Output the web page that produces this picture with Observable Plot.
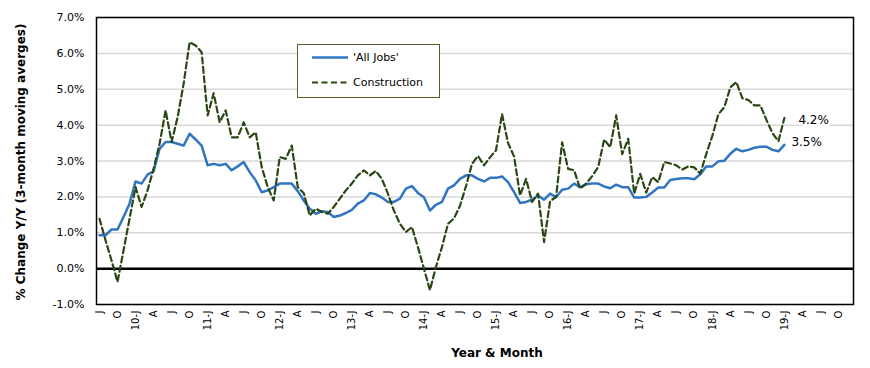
<!DOCTYPE html>
<html><head><meta charset="utf-8">
<script src="https://cdn.jsdelivr.net/npm/d3@7"></script>
<script src="https://cdn.jsdelivr.net/npm/@observablehq/plot@0.6"></script>
<style>body{margin:0;background:#fff;}</style>
</head><body><div id="chart"></div>
<script>
// Monthly series, Jul 2009 .. Jan 2019 (index 0 = Jul 2009)
const allJobs = [
  0.93,0.93,1.09,1.09,1.44,1.81,2.43,2.37,2.62,2.71,3.34,3.53,
  3.53,3.48,3.43,3.76,3.60,3.43,2.88,2.92,2.88,2.92,2.74,2.85,
  2.97,2.69,2.46,2.13,2.18,2.27,2.37,2.37,2.37,2.16,1.90,1.67,
  1.53,1.60,1.58,1.44,1.48,1.55,1.64,1.81,1.90,2.11,2.07,1.98,
  1.86,1.86,1.95,2.23,2.30,2.11,1.99,1.62,1.78,1.86,2.23,2.32,
  2.50,2.60,2.60,2.50,2.43,2.53,2.53,2.57,2.41,2.13,1.83,1.86,
  1.92,2.04,1.92,2.09,1.99,2.20,2.23,2.37,2.27,2.35,2.37,2.37,
  2.29,2.24,2.34,2.27,2.27,1.98,1.98,2.00,2.12,2.26,2.26,2.47,
  2.50,2.52,2.52,2.49,2.63,2.85,2.85,2.99,3.01,3.20,3.34,3.27,
  3.31,3.37,3.40,3.40,3.31,3.27,3.45
];
const construction = [
  1.39,0.79,0.23,-0.37,0.51,1.39,2.27,1.72,2.18,2.78,3.48,4.41,
  3.53,4.22,5.15,6.31,6.22,6.03,4.27,4.89,4.08,4.41,3.66,3.66,
  4.08,3.66,3.80,2.83,2.27,1.90,3.11,3.06,3.43,2.27,2.10,1.48,
  1.67,1.58,1.53,1.72,1.95,2.18,2.37,2.60,2.74,2.60,2.72,2.50,
  2.09,1.62,1.25,1.02,1.16,0.60,0.00,-0.60,0.05,0.60,1.25,1.40,
  1.75,2.30,2.92,3.14,2.88,3.10,3.30,4.31,3.50,3.13,2.04,2.50,
  1.86,2.09,0.74,1.88,2.00,3.52,2.78,2.74,2.23,2.37,2.58,2.83,
  3.60,3.38,4.27,3.19,3.62,2.09,2.64,2.12,2.55,2.41,2.97,2.93,
  2.88,2.76,2.85,2.82,2.65,3.20,3.70,4.30,4.50,5.05,5.20,4.75,
  4.70,4.55,4.55,4.15,3.78,3.55,4.20
];
const seriesNames = ["'All Jobs'", "Construction"];
const endLabels = ["3.5%", "4.2%"];
// Category tick labels every 3 months, Jul 2009 .. Oct 2019
const tickLabels = [
  "J","O",
  "10-J","A","J","O","11-J","A","J","O","12-J","A","J","O",
  "13-J","A","J","O","14-J","A","J","O","15-J","A","J","O",
  "16-J","A","J","O","17-J","A","J","O","18-J","A","J","O",
  "19-J","A","J","O"
];
const categoryCount = 126; // Jul 2009 .. Dec 2019
const yTicks = [-1,0,1,2,3,4,5,6,7];
const yTitle = "% Change Y/Y (3-month moving averges)";
const xTitle = "Year & Month";

const blue = "#2f75c2";
const green = "#2b4713";

const rows = allJobs.map((v, i) => ({i, allJobs: v, construction: construction[i]}));
const last = rows.length - 1;
const endRows = [
  {i: last, v: allJobs[last], label: endLabels[0]},
  {i: last, v: construction[last], label: endLabels[1]}
];
const tickPositions = tickLabels.map((_, k) => k * 3);

const chart = Plot.plot({
  width: 870, height: 368,
  marginLeft: 96, marginRight: 17, marginTop: 17, marginBottom: 64,
  style: {fontFamily: "DejaVu Sans", fontSize: "11px", color: "#000", background: "#fff"},
  x: {domain: [-0.5, categoryCount - 0.5], label: null},
  y: {domain: [-1, 7], label: null},
  marks: [
    Plot.gridY(yTicks, {stroke: "#d9d9d9", strokeOpacity: 1, strokeWidth: 1.5}),
    Plot.ruleY([0], {stroke: "black", strokeWidth: 2.5}),
    Plot.frame({stroke: "black", strokeWidth: 1.5}),
    Plot.axisY(yTicks, {tickSize: 0, tickPadding: 12, tickFormat: d => d.toFixed(1) + "%", fontSize: 11}),
    Plot.axisX(tickPositions, {tickSize: 0, tickPadding: 6, tickRotate: -90, tickFormat: d => tickLabels[d / 3], fontSize: 10}),
    Plot.lineY(rows, {x: "i", y: "allJobs", stroke: blue, strokeWidth: 2.5}),
    Plot.lineY(rows, {x: "i", y: "construction", stroke: green, strokeWidth: 2.2, strokeDasharray: "6,3.5"}),
    Plot.text(endRows.slice(1), {x: "i", y: "v", text: "label", textAnchor: "start", dx: 14, dy: 2, fontSize: 12, stroke: "white", strokeWidth: 5, fill: "black"}),
    Plot.text(endRows.slice(0, 1), {x: "i", y: "v", text: "label", textAnchor: "start", dx: 7, dy: -2.5, fontSize: 12, stroke: "white", strokeWidth: 5, fill: "black"})
  ]
});

const svg = d3.select(chart);
svg.append("text")
  .attr("transform", "translate(21,162) rotate(-90)")
  .attr("text-anchor", "middle").attr("dominant-baseline", "middle")
  .attr("font-family", "DejaVu Sans").attr("font-weight", "bold").attr("font-size", 12)
  .text(yTitle);
svg.append("text")
  .attr("x", 497).attr("y", 357)
  .attr("text-anchor", "middle")
  .attr("font-family", "DejaVu Sans").attr("font-weight", "bold").attr("font-size", 12)
  .text(xTitle);

// legend
const lg = svg.append("g");
lg.append("rect").attr("x", 297.5).attr("y", 44.5).attr("width", 142).attr("height", 53)
  .attr("fill", "white").attr("stroke", "#4f6228").attr("stroke-width", 1);
const legendItems = [
  {name: seriesNames[0], color: blue, dash: null, w: 2.5, y: 57.5},
  {name: seriesNames[1], color: green, dash: "6,3.5", w: 2.2, y: 82.5}
];
for (const it of legendItems) {
  lg.append("line").attr("x1", 312).attr("x2", 348).attr("y1", it.y).attr("y2", it.y)
    .attr("stroke", it.color).attr("stroke-width", it.w).attr("stroke-dasharray", it.dash);
  lg.append("text").attr("x", 353).attr("y", it.y).attr("dy", "0.35em")
    .attr("text-anchor", "start")
    .attr("font-family", "DejaVu Sans").attr("font-size", 11).text(it.name);
}

document.getElementById("chart").appendChild(chart);
</script>
</body></html>
